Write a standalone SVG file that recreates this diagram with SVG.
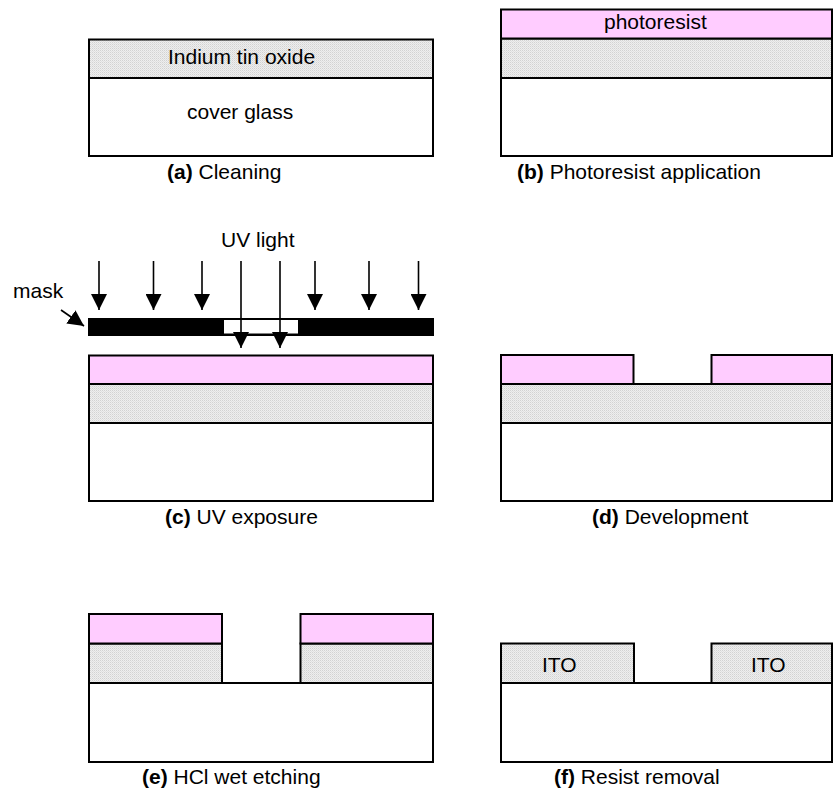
<svg xmlns="http://www.w3.org/2000/svg" width="833" height="789" viewBox="0 0 833 789">
<style>
  .glass{fill:#ffffff;stroke:#000;stroke-width:2}
  .ito{fill:url(#dots);stroke:#000;stroke-width:2}
  .pr{fill:#ffccff;stroke:#000;stroke-width:2}
  .t{font-family:"Liberation Sans",Arial,sans-serif;font-size:21px;fill:#000}
  .b{font-weight:bold}
  .ray{stroke:#000;stroke-width:1.6;fill:none;marker-end:url(#ah)}
</style>
<defs>
  <pattern id="dots" width="2" height="2" patternUnits="userSpaceOnUse">
    <rect width="2" height="2" fill="#eeeeee"/>
    <rect width="1" height="1" fill="#d2d2d2"/>
    <rect x="1" y="1" width="1" height="1" fill="#e0e0e0"/>
  </pattern>
  <marker id="ah" markerUnits="userSpaceOnUse" markerWidth="16" markerHeight="16" refX="16" refY="8" orient="auto" viewBox="0 0 16 16">
    <path d="M0,0 L16,8 L0,16 z" fill="#000"/>
  </marker>
</defs>

<g id="panel-a">
  <rect class="glass" x="89" y="78" width="344" height="78"/>
  <rect class="ito" x="89" y="39.5" width="344" height="38.5"/>
  <text class="t" x="168" y="64">Indium tin oxide</text>
  <text class="t" x="187" y="119">cover glass</text>
  <text class="t" x="167" y="179"><tspan class="b">(a)</tspan> Cleaning</text>
</g>

<g id="panel-b">
  <rect class="glass" x="501" y="78" width="331" height="78"/>
  <rect class="ito" x="501" y="38.5" width="331" height="39.5"/>
  <rect class="pr" x="501" y="9.5" width="331" height="29"/>
  <text class="t" x="604" y="29">photoresist</text>
  <text class="t" x="517" y="179"><tspan class="b">(b)</tspan> Photoresist application</text>
</g>

<g id="panel-c">
  <rect class="glass" x="89" y="423" width="344" height="78"/>
  <rect class="ito" x="89" y="384" width="344" height="39"/>
  <rect class="pr" x="89" y="355.5" width="344" height="28.5"/>
  <text class="t" x="165" y="524"><tspan class="b">(c)</tspan> UV exposure</text>
</g>

<g id="mask">
  <rect x="88" y="318" width="346" height="18" fill="#000"/>
  <rect x="223.5" y="319.5" width="75" height="14.5" fill="#fff" stroke="#000" stroke-width="1"/>
  <text class="t" x="13" y="298">mask</text>
</g>

<g id="uv-light">
  <text class="t" x="221" y="247">UV light</text>
</g>

<g id="panel-d">
  <rect class="glass" x="501" y="423" width="331" height="78"/>
  <rect class="ito" x="501" y="384" width="331" height="39"/>
  <rect class="pr" x="501" y="355" width="132.5" height="29"/>
  <rect class="pr" x="711.5" y="355" width="120.5" height="29"/>
  <text class="t" x="592" y="524"><tspan class="b">(d)</tspan> Development</text>
</g>

<g id="panel-e">
  <rect class="glass" x="89" y="683" width="344" height="79"/>
  <rect class="ito" x="89" y="643.5" width="133" height="39.5"/>
  <rect class="ito" x="300.5" y="643.5" width="132.5" height="39.5"/>
  <rect class="pr" x="89" y="614" width="133" height="29.5"/>
  <rect class="pr" x="300.5" y="614" width="132.5" height="29.5"/>
  <text class="t" x="142" y="784"><tspan class="b">(e)</tspan> HCl wet etching</text>
</g>

<g id="panel-f">
  <rect class="glass" x="501" y="683" width="331" height="79"/>
  <rect class="ito" x="501" y="643.5" width="133" height="39.5"/>
  <rect class="ito" x="711.5" y="643.5" width="120.5" height="39.5"/>
  <text class="t" x="542" y="672">ITO</text>
  <text class="t" x="751" y="672">ITO</text>
  <text class="t" x="554" y="784"><tspan class="b">(f)</tspan> Resist removal</text>
</g>

<g id="connectors">
  <line class="ray" x1="99" y1="261" x2="99" y2="310"/>
  <line class="ray" x1="153.5" y1="261" x2="153.5" y2="310"/>
  <line class="ray" x1="202" y1="261" x2="202" y2="310"/>
  <line class="ray" x1="241" y1="261" x2="241" y2="348"/>
  <line class="ray" x1="280" y1="261" x2="280" y2="348"/>
  <line class="ray" x1="315" y1="261" x2="315" y2="310"/>
  <line class="ray" x1="369" y1="261" x2="369" y2="310"/>
  <line class="ray" x1="418.5" y1="261" x2="418.5" y2="310"/>
  <line class="ray" x1="61" y1="310" x2="84" y2="326"/>
</g>
</svg>
